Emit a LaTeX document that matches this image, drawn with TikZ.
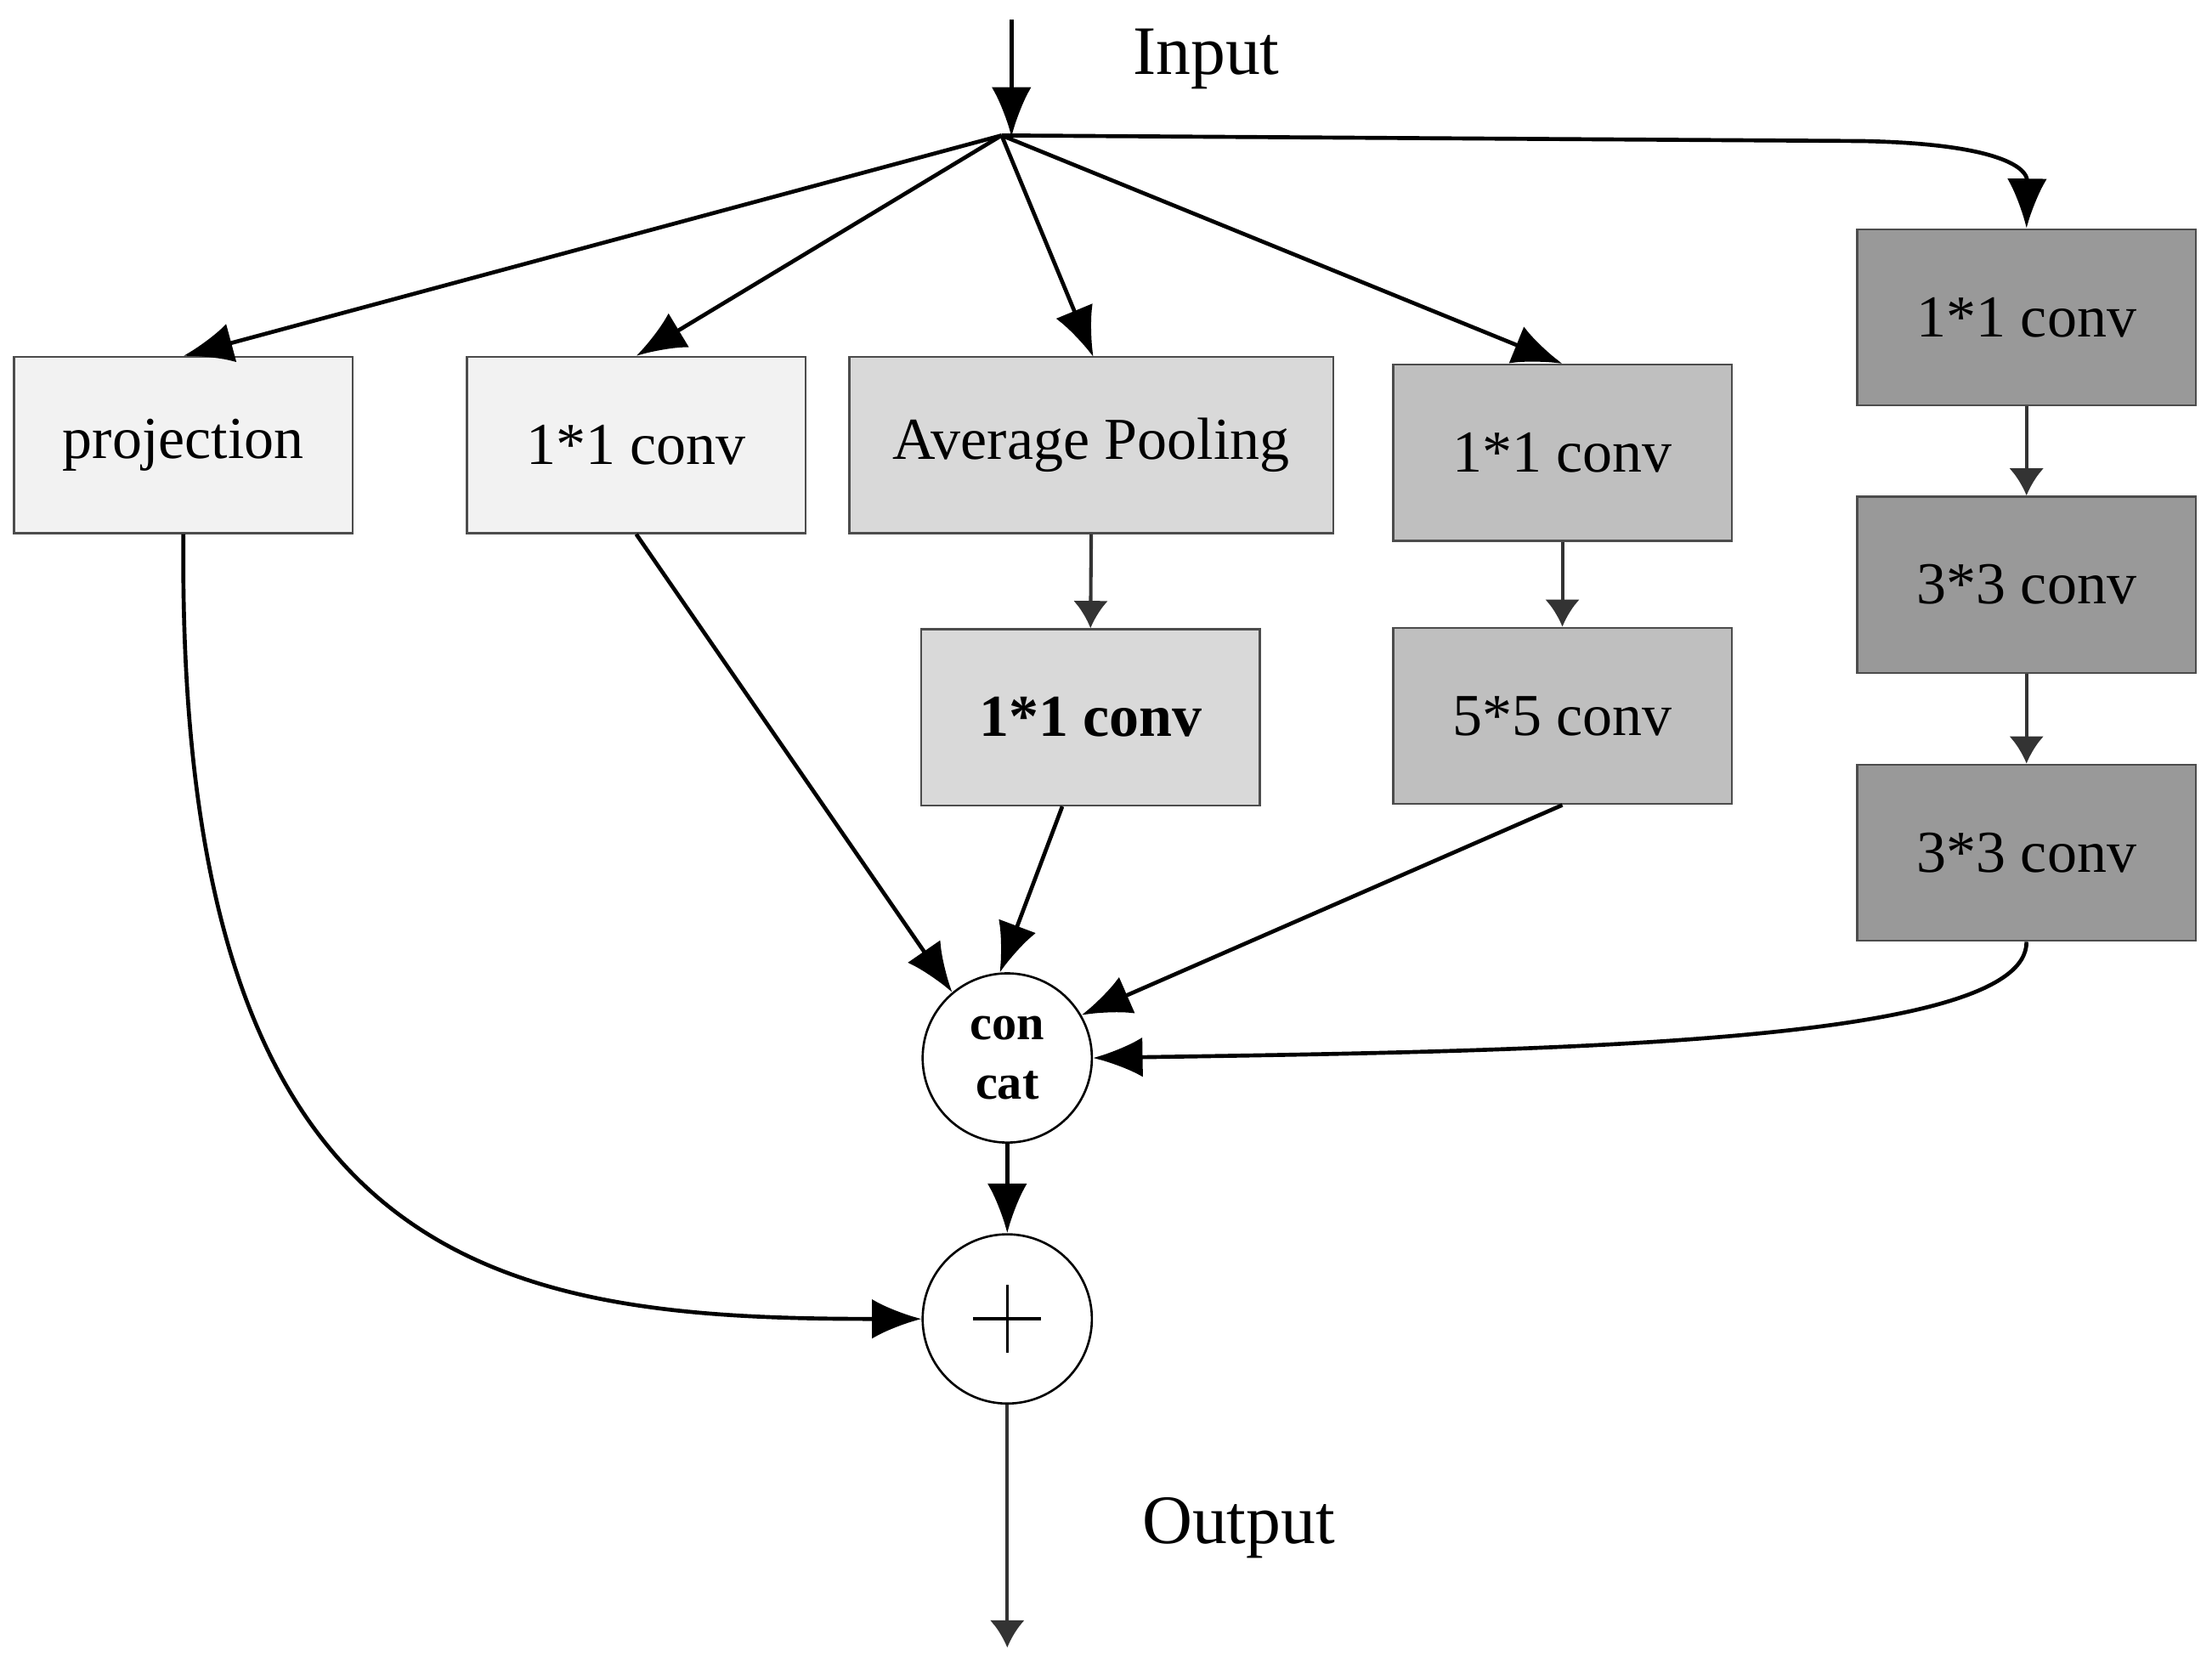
\documentclass[tikz,border=0pt]{standalone}
\usepackage{fontspec}
\setmainfont{Liberation Serif}
\usetikzlibrary{arrows.meta}
\begin{document}
\begin{tikzpicture}[x=0.02cm,y=-0.02cm,
  box/.style={draw=black!70,line width=0.8pt,minimum width=4.8cm,minimum height=2.5cm,inner sep=0pt,font=\fontsize{24}{28}\selectfont},
  circ/.style={draw=black,line width=0.9pt,circle,minimum size=2.4cm,inner sep=0pt},
  arr/.style={line width=1.6pt,-{Latex[length=20pt,width=16pt]}},
  sarr/.style={line width=1.4pt,draw=black!80,-{Latex[length=11pt,width=14pt]}}]
\useasboundingbox (0,0) rectangle (1568,1182);
\node[box,fill=black!5] (proj) at (130,315.5) {projection};
\node[box,fill=black!5] (c1) at (451,315.5) {1*1 conv};
\node[box,fill=black!15,minimum width=6.86cm] (avg) at (773.5,315.5) {Average Pooling};
\node[box,fill=black!15] (c1b) at (773,508.5) {\textbf{1*1 conv}};
\node[box,fill=black!25] (c2) at (1107.5,321) {1*1 conv};
\node[box,fill=black!25] (c5) at (1107.5,507.5) {5*5 conv};
\node[box,fill=black!40] (r1) at (1436.5,225) {1*1 conv};
\node[box,fill=black!40] (r2) at (1436.5,414.5) {3*3 conv};
\node[box,fill=black!40] (r3) at (1436.5,604.5) {3*3 conv};
\node[circ,align=center,font=\bfseries\fontsize{20}{24}\selectfont] (cat) at (714,750) {con\\cat};
\node[circ] (plus) at (714,935) {};
\draw[line width=1.2pt] (690,935) -- (738,935) (714,911) -- (714,959);
\node[font=\fontsize{28}{32}\selectfont] (in) at (855,42) {Input};
\node[font=\fontsize{28}{32}\selectfont] (out) at (878,1083) {Output};
\coordinate (top) at (717,14);
\coordinate (sp) at (710,96);
\coordinate (end) at (714,1168);
\draw[arr] (top) -- (717,97);
\draw[arr] (sp) -- (proj.north);
\draw[arr] (sp) -- (c1.north);
\draw[arr] (sp) -- (775,253);
\draw[arr] (sp) -- (c2.north);
\draw[arr] (sp) -- (1320,100) .. controls (1420,102) and (1437,120) .. (r1.north);
\draw[sarr] (avg.south) -- (c1b.north);
\draw[sarr] (c2.south) -- (c5.north);
\draw[sarr] (r1.south) -- (r2.north);
\draw[sarr] (r2.south) -- (r3.north);
\draw[arr] (c1.south) -- (cat.130);
\draw[arr] ([xshift=-0.4cm]c1b.south) -- (cat.95);
\draw[arr] (c5.south) -- (cat.30);
\draw[arr] (r3.south) .. controls (1437,740) and (1100,745) .. (cat.east);
\draw[arr] (cat.south) -- (plus.north);
\draw[arr] (proj.south) .. controls (125,900) and (350,935) .. (plus.west);
\draw[sarr] (plus.south) -- (end);
\end{tikzpicture}
\end{document}
